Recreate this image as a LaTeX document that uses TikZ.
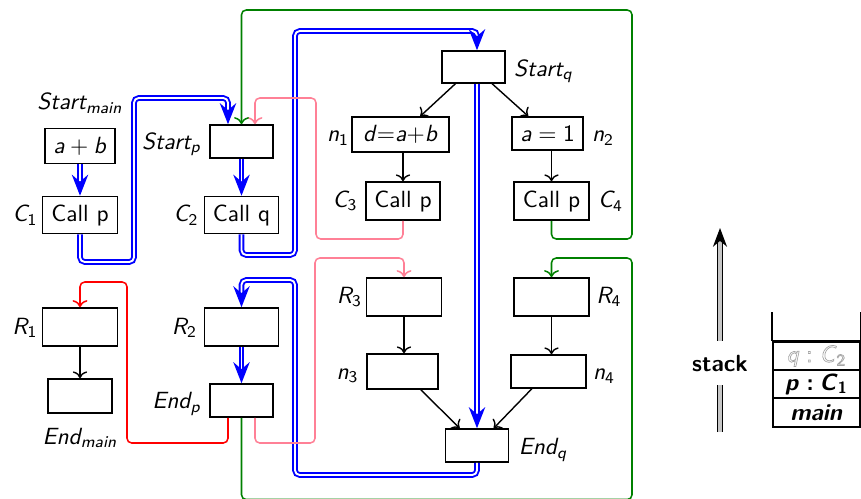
\documentclass[tikz,border=0pt]{standalone}
\usetikzlibrary{arrows.meta,calc}
\newcommand\mv[1]{\textit{#1}}
\newcommand\outl[1]{\special{pdf:literal 1 Tr 0.3 w}#1\special{pdf:literal 0 Tr}}
\definecolor{pinkc}{RGB}{255,128,150}
\definecolor{greenc}{RGB}{0,128,0}
\def\pxu{0.4268pt}
\tikzset{
  box/.style 2 args={draw, line width=0.65pt, inner sep=0pt, minimum width=#1*\pxu, minimum height=#2*\pxu},
  lbl/.style={inner sep=0pt, font=\sffamily\itshape},
  btip/.style={-{Stealth[length=9pt,width=7pt,inset=3pt]}},
  bl/.style={blue, line width=0.8pt, double=white, double distance=0.8pt, rounded corners=2pt, btip},
  blnc/.style={blue, line width=0.8pt, double=white, double distance=0.8pt, btip},
  cl/.style={line width=0.65pt, rounded corners=2pt, ->},
  ar/.style={line width=0.6pt, ->},
  stk/.style={line width=0.5pt, double=gray!45, double distance=1.3pt, -{Stealth[length=8pt,width=6pt,inset=2.5pt]}},
  srow/.style={draw, line width=0.65pt, inner sep=0pt, minimum width=87*\pxu, minimum height=28*\pxu, font=\sffamily}
}
\begin{document}
\begin{tikzpicture}[x=0.015cm, y=-0.015cm, font=\sffamily]
\useasboundingbox (0,0) rectangle (861,498);
% boxes
\node[box={70}{35}] (ab) at (80,146) {\mv{a}${}+{}$\mv{b}};
\node[box={75}{37}] (C1) at (80,215) {Call p};
\node[box={63}{33}] (SP) at (241.5,141.5) {};
\node[box={74}{37}] (C2) at (241.5,215) {Call q};
\node[box={63}{32}] (SQ) at (473.5,67) {};
\node[box={97}{35}] (N1) at (400.5,134.5) {\mv{d}$=$\mv{a}$+$\mv{b}};
\node[box={71}{33}] (N2) at (547.5,133.5) {\mv{a}${}={}$1};
\node[box={74}{38}] (C3) at (403,201) {Call p};
\node[box={75}{38}] (C4) at (551.5,201) {Call p};
\node[box={75}{38}] (R1) at (80,327) {};
\node[box={64}{34}] (EM) at (80,396) {};
\node[box={74}{38}] (R2) at (241.5,327) {};
\node[box={63}{33}] (EP) at (241.5,400.5) {};
\node[box={75}{38}] (R3) at (404,297) {};
\node[box={71}{35}] (N3) at (402.5,371.5) {};
\node[box={75}{38}] (R4) at (551.5,297) {};
\node[box={75}{33}] (N4) at (548.5,371.5) {};
\node[box={63}{33}] (EQ) at (477,445.5) {};
% labels
\node[lbl] (lSM) at (80,103) {Start\textsubscript{main}};
\node[lbl] (lSP) at (171.5,144) {Start\textsubscript{p}};
\node[lbl] (lC1) at (25,215) {C\textsubscript{\upshape 1}};
\node[lbl] (lC2) at (186,215) {C\textsubscript{\upshape 2}};
\node[lbl] (lSQ) at (543.5,71) {Start\textsubscript{q}};
\node[lbl] (ln1) at (338,138) {n\textsubscript{\upshape 1}};
\node[lbl] (ln2) at (603,138) {n\textsubscript{\upshape 2}};
\node[lbl] (lC3) at (345,201) {C\textsubscript{\upshape 3}};
\node[lbl] (lC4) at (610.5,201) {C\textsubscript{\upshape 4}};
\node[lbl] (lR1) at (25,328) {R\textsubscript{\upshape 1}};
\node[lbl] (lR2) at (184.5,328) {R\textsubscript{\upshape 2}};
\node[lbl] (lEM) at (80,438) {End\textsubscript{main}};
\node[lbl] (lEP) at (176.5,404) {End\textsubscript{p}};
\node[lbl] (lR3) at (349.5,297) {R\textsubscript{\upshape 3}};
\node[lbl] (lR4) at (609,297) {R\textsubscript{\upshape 4}};
\node[lbl] (ln3) at (347.5,376) {n\textsubscript{\upshape 3}};
\node[lbl] (ln4) at (604,376) {n\textsubscript{\upshape 4}};
\node[lbl] (lEQ) at (543,450) {End\textsubscript{q}};
% black arrows
\draw[ar] (SQ) -- (N1);
\draw[ar] (SQ) -- (N2);
\draw[ar] (N1.south -| C3.north) -- (C3.north);
\draw[ar] (N2.south -| C4.north) -- (C4.north);
\draw[ar] (R3.south) -- (R3.south |- N3.north);
\draw[ar] (R4.south) -- (R4.south |- N4.north);
\draw[ar] (N3) -- (EQ);
\draw[ar] (N4) -- (EQ);
\draw[ar] (R1.south) -- (R1.south |- EM.north);
% blue double connectors
\coordinate (spL) at ($(SP.north)+(-13.5,0)$);
\coordinate (spR) at ($(SP.north)+(13.5,0)$);
\coordinate (epL) at ($(EP.south)+(-13.5,0)$);
\coordinate (epR) at ($(EP.south)+(13.5,0)$);
\draw[blnc] (ab.south) -- (ab.south |- C1.north);
\draw[blnc] (SP.south) -- (SP.south |- C2.north);
\draw[blnc] (R2.south) -- (R2.south |- EP.north);
\draw[blnc] (SQ.south -| EQ.north) -- (EQ.north);
\draw[bl] (C1.south) |- (134,262) |- (228,98) -- (spL);
\draw[bl] (C2.south) |- (295,255) |- (477,31) -- (SQ.north -| EQ.north);
\draw[bl] (EQ.south) |- (295,475) |- (241.5,280) -- (R2.north);
% coloured connectors
\draw[cl, red] (epL) |- (127,443) |- (80,282) -- (R1.north);
\draw[cl, pinkc] (C3.south) |- (316,239) |- (255,98) -- (spR);
\draw[cl, pinkc] (epR) |- (315,443) |- (404,258) -- (R3.north);
\draw[cl, greenc] (C4.south) |- (632,239) |- (241.5,10) -- (SP.north);
\draw[cl, greenc] (EP.south) |- (632,499.5) |- (551.5,258) -- (R4.north);
% stack
\coordinate (sb) at (720,432);
\coordinate (st) at (720,228);
\draw[stk] (sb) -- (st);
\node[fill=white, font=\sffamily\bfseries, inner xsep=1pt, inner ysep=6pt] (stack) at (720,363) {stack};
\node[srow] (rq) at (816.5,356) {\color{gray!70}\outl{\mv{q}\hspace{3pt}:\hspace{3pt}\mv{C}\textsubscript{2}}};
\node[srow] (rp) at (816.5,384) {\bfseries\mv{p}\hspace{3pt}:\hspace{2.5pt}\mv{C}\textsubscript{1}};
\node[srow, minimum height=29*\pxu] (rm) at (816.5,412.5) {\bfseries\mv{main}};
\draw[line width=0.65pt] (rq.north west) -- ++(0,-29);
\draw[line width=0.65pt] (rq.north east) -- ++(0,-29);
\draw[line width=1.1pt] (rq.north west) -- (rq.north east);
\end{tikzpicture}
\end{document}
